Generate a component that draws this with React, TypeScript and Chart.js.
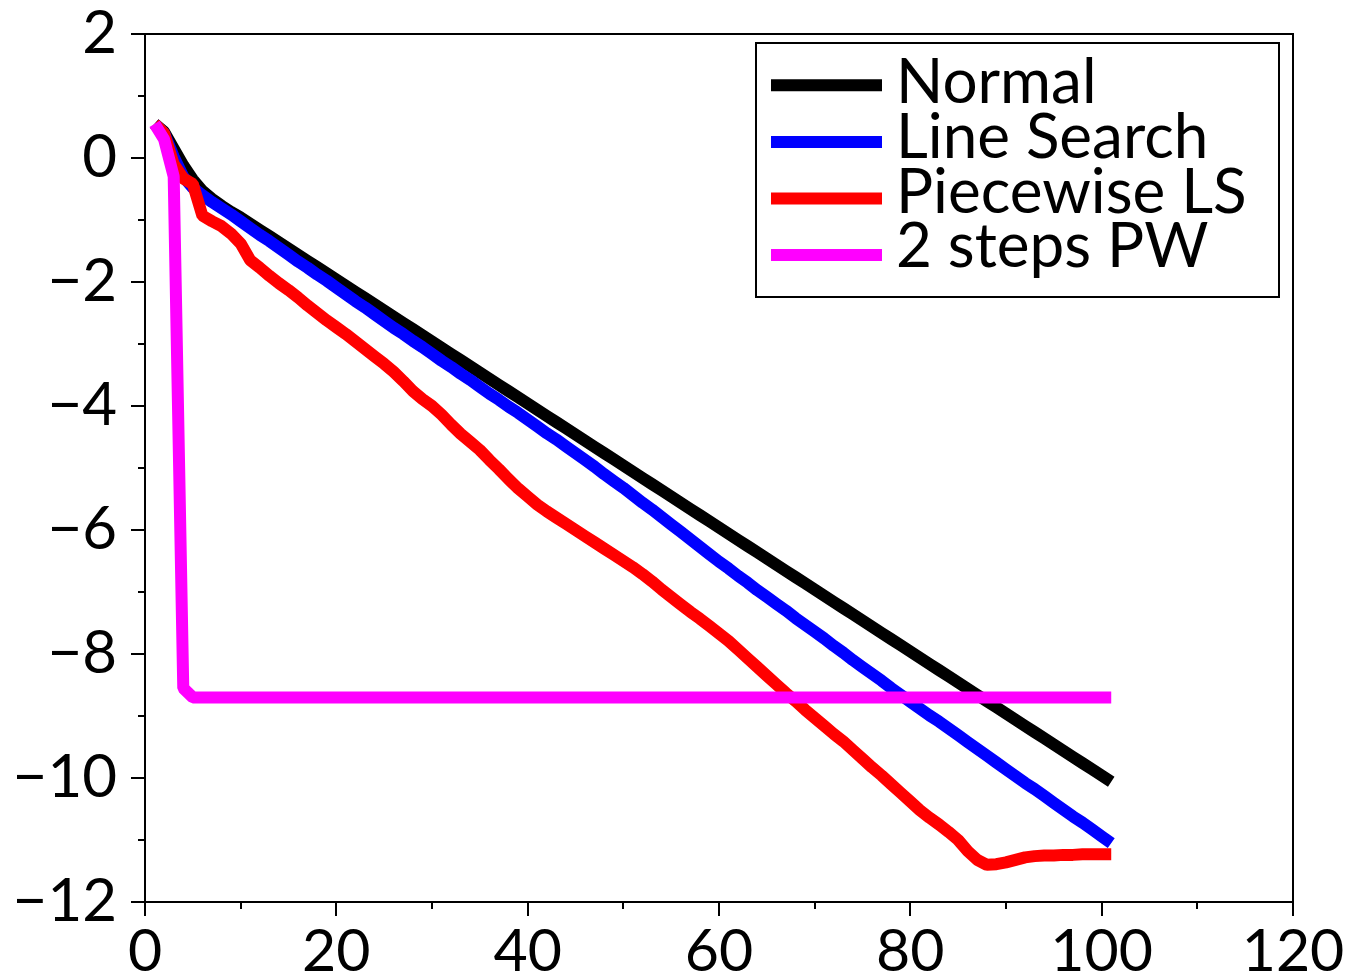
import React, { useEffect, useRef } from 'react';
import { Chart, registerables } from 'chart.js';

Chart.register(...registerables);

const FONT = 'Lato, "DejaVu Sans", sans-serif';

const iterations = [
  1, 2, 3, 4, 5, 6, 7, 8, 9, 10,
  11, 12, 13, 14, 15, 16, 17, 18, 19, 20,
  21, 22, 23, 24, 25, 26, 27, 28, 29, 30,
  31, 32, 33, 34, 35, 36, 37, 38, 39, 40,
  41, 42, 43, 44, 45, 46, 47, 48, 49, 50,
  51, 52, 53, 54, 55, 56, 57, 58, 59, 60,
  61, 62, 63, 64, 65, 66, 67, 68, 69, 70,
  71, 72, 73, 74, 75, 76, 77, 78, 79, 80,
  81, 82, 83, 84, 85, 86, 87, 88, 89, 90,
  91, 92, 93, 94, 95, 96, 97, 98, 99, 100,
  101,
];

const normalValues = [
  0.55, 0.42, 0.15, -0.12, -0.35, -0.53, -0.66, -0.77, -0.87, -0.96,
  -1.06, -1.16, -1.26, -1.36, -1.46, -1.56, -1.66, -1.76, -1.86, -1.96,
  -2.06, -2.16, -2.26, -2.36, -2.46, -2.56, -2.66, -2.76, -2.86, -2.96,
  -3.06, -3.16, -3.26, -3.36, -3.46, -3.56, -3.66, -3.76, -3.86, -3.96,
  -4.06, -4.16, -4.26, -4.36, -4.46, -4.56, -4.66, -4.76, -4.86, -4.96,
  -5.06, -5.16, -5.26, -5.36, -5.46, -5.56, -5.66, -5.76, -5.86, -5.96,
  -6.06, -6.16, -6.26, -6.36, -6.46, -6.56, -6.66, -6.76, -6.86, -6.96,
  -7.06, -7.16, -7.26, -7.36, -7.46, -7.56, -7.66, -7.76, -7.86, -7.96,
  -8.06, -8.16, -8.26, -8.36, -8.46, -8.56, -8.66, -8.76, -8.86, -8.96,
  -9.06, -9.16, -9.26, -9.36, -9.46, -9.56, -9.66, -9.76, -9.86, -9.96,
  -10.06,
];

const lineSearchValues = [
  0.55, 0.4, 0.02, -0.3, -0.48, -0.6, -0.71, -0.81, -0.91, -1.02,
  -1.13, -1.24, -1.34, -1.45, -1.56, -1.67, -1.77, -1.88, -1.98, -2.09,
  -2.2, -2.31, -2.41, -2.52, -2.63, -2.74, -2.84, -2.95, -3.05, -3.16,
  -3.27, -3.37, -3.48, -3.58, -3.69, -3.8, -3.9, -4.01, -4.11, -4.22,
  -4.33, -4.44, -4.54, -4.65, -4.76, -4.87, -4.98, -5.1, -5.21, -5.32,
  -5.44, -5.56, -5.67, -5.79, -5.91, -6.03, -6.15, -6.27, -6.39, -6.51,
  -6.62, -6.74, -6.85, -6.97, -7.08, -7.19, -7.3, -7.42, -7.53, -7.64,
  -7.75, -7.87, -7.98, -8.1, -8.21, -8.32, -8.43, -8.55, -8.66, -8.77,
  -8.88, -8.99, -9.09, -9.2, -9.31, -9.42, -9.53, -9.64, -9.75, -9.86,
  -9.97, -10.08, -10.18, -10.29, -10.4, -10.51, -10.62, -10.72, -10.83, -10.94,
  -11.05,
];

const piecewiseValues = [
  0.55, 0.4, -0.1, -0.33, -0.42, -0.93, -1.02, -1.1, -1.22, -1.38,
  -1.65, -1.77, -1.9, -2.02, -2.13, -2.25, -2.38, -2.5, -2.62, -2.73,
  -2.84, -2.96, -3.08, -3.2, -3.32, -3.45, -3.6, -3.76, -3.89, -4.0,
  -4.14, -4.3, -4.45, -4.58, -4.71, -4.87, -5.02, -5.18, -5.33, -5.46,
  -5.59, -5.7, -5.8, -5.9, -6.0, -6.1, -6.2, -6.3, -6.4, -6.5,
  -6.6, -6.71, -6.83, -6.96, -7.08, -7.2, -7.32, -7.43, -7.55, -7.67,
  -7.79, -7.93, -8.07, -8.21, -8.35, -8.49, -8.63, -8.76, -8.9, -9.03,
  -9.16, -9.29, -9.41, -9.55, -9.69, -9.83, -9.96, -10.1, -10.24, -10.38,
  -10.52, -10.64, -10.75, -10.87, -11.0, -11.18, -11.32, -11.4, -11.39, -11.36,
  -11.32, -11.28, -11.26, -11.25, -11.25, -11.24, -11.24, -11.23, -11.23, -11.23,
  -11.23,
];

const twoStepsValues = [
  0.55, 0.3, -0.3, -8.55, -8.7, -8.7, -8.7, -8.7, -8.7, -8.7,
  -8.7, -8.7, -8.7, -8.7, -8.7, -8.7, -8.7, -8.7, -8.7, -8.7,
  -8.7, -8.7, -8.7, -8.7, -8.7, -8.7, -8.7, -8.7, -8.7, -8.7,
  -8.7, -8.7, -8.7, -8.7, -8.7, -8.7, -8.7, -8.7, -8.7, -8.7,
  -8.7, -8.7, -8.7, -8.7, -8.7, -8.7, -8.7, -8.7, -8.7, -8.7,
  -8.7, -8.7, -8.7, -8.7, -8.7, -8.7, -8.7, -8.7, -8.7, -8.7,
  -8.7, -8.7, -8.7, -8.7, -8.7, -8.7, -8.7, -8.7, -8.7, -8.7,
  -8.7, -8.7, -8.7, -8.7, -8.7, -8.7, -8.7, -8.7, -8.7, -8.7,
  -8.7, -8.7, -8.7, -8.7, -8.7, -8.7, -8.7, -8.7, -8.7, -8.7,
  -8.7, -8.7, -8.7, -8.7, -8.7, -8.7, -8.7, -8.7, -8.7, -8.7,
  -8.7,
];

const seriesNames = ['Normal', 'Line Search', 'Piecewise LS', '2 steps PW'];
const seriesColors = ['#000000', '#0000ff', '#ff0000', '#ff00ff'];

const xTickLabels = [0, 20, 40, 60, 80, 100, 120];
const yTickLabels = [2, 0, -2, -4, -6, -8, -10, -12];

const fmt = (v: number) => (v < 0 ? '\u2212' + Math.abs(v) : String(v));

const frameAndTicks = {
  id: 'frameAndTicks',
  afterDraw(chart: any) {
    const { ctx, chartArea: a, scales } = chart;
    ctx.save();
    ctx.strokeStyle = '#000';
    ctx.lineWidth = 2;
    ctx.lineCap = 'butt';
    ctx.beginPath();
    ctx.moveTo(a.left - 1, a.top);
    ctx.lineTo(a.right, a.top);
    ctx.lineTo(a.right, a.bottom + 1);
    ctx.stroke();
    const xs = scales.x;
    xs.ticks.forEach((t: any) => {
      const px = Math.round(xs.getPixelForValue(t.value));
      const len = xTickLabels.includes(t.value) ? 14 : 7;
      ctx.beginPath();
      ctx.moveTo(px, a.bottom);
      ctx.lineTo(px, a.bottom + len);
      ctx.stroke();
    });
    const ys = scales.y;
    ys.ticks.forEach((t: any) => {
      const py = Math.round(ys.getPixelForValue(t.value));
      const len = yTickLabels.includes(t.value) ? 14 : 7;
      ctx.beginPath();
      ctx.moveTo(a.left, py);
      ctx.lineTo(a.left - len, py);
      ctx.stroke();
    });
    ctx.restore();
  },
};

const legendBox = {
  id: 'legendBox',
  afterDraw(chart: any) {
    const { ctx, chartArea: a } = chart;
    const right = a.right - 14;
    const top = a.top + 9;
    const left = right - 523;
    const bottom = top + 254;
    ctx.save();
    ctx.fillStyle = '#fff';
    ctx.fillRect(left, top, right - left, bottom - top);
    ctx.strokeStyle = '#000';
    ctx.lineWidth = 2;
    ctx.strokeRect(left, top, right - left, bottom - top);
    chart.data.datasets.forEach((ds: any, i: number) => {
      const cy = top + 42.3 + i * 56.6;
      ctx.strokeStyle = ds.borderColor;
      ctx.lineWidth = 12;
      ctx.lineCap = 'butt';
      ctx.beginPath();
      ctx.moveTo(left + 15, cy);
      ctx.lineTo(left + 126, cy);
      ctx.stroke();
      ctx.fillStyle = '#000';
      ctx.font = `62px ${FONT}`;
      ctx.textBaseline = 'alphabetic';
      ctx.textAlign = 'left';
      ctx.fillText(ds.label, left + 140, top + 60.3 + i * 54.7);
    });
    ctx.restore();
  },
};

export default function App() {
  const canvasRef = useRef<HTMLCanvasElement | null>(null);

  useEffect(() => {
    if (!canvasRef.current) return;
    const allValues = [normalValues, lineSearchValues, piecewiseValues, twoStepsValues];
    const datasets = allValues.map((vals, i) => ({
      label: seriesNames[i],
      data: iterations.map((x, j) => ({ x, y: vals[j] })),
      borderColor: seriesColors[i],
      backgroundColor: seriesColors[i],
      borderWidth: 12,
      borderCapStyle: 'butt' as const,
      borderJoinStyle: 'bevel' as const,
      pointRadius: 0,
      pointHoverRadius: 0,
      tension: 0,
      fill: false,
      order: 4 - i,
    }));

    const chart = new Chart(canvasRef.current, {
      type: 'line',
      data: { datasets },
      plugins: [frameAndTicks, legendBox],
      options: {
        animation: false,
        responsive: false,
        devicePixelRatio: 1,
        layout: { padding: { left: 0, right: 52, top: 34, bottom: 0 } },
        plugins: {
          legend: { display: false },
          tooltip: { enabled: false },
        },
        scales: {
          x: {
            type: 'linear',
            min: 0,
            max: 120,
            afterFit: (s: any) => {
              s.height = 69;
              s.paddingLeft = 0;
              s.paddingRight = 0;
            },
            ticks: {
              stepSize: 10,
              autoSkip: false,
              maxRotation: 0,
              padding: 1,
              color: '#000',
              font: { family: FONT, size: 59 },
              callback: (v: any) => (xTickLabels.includes(Number(v)) ? fmt(Number(v)) : ''),
            },
            grid: {
              drawOnChartArea: false,
              drawTicks: true,
              tickLength: 14,
              tickColor: 'rgba(0,0,0,0)',
            },
            border: { display: true, color: '#000', width: 2 },
          },
          y: {
            type: 'linear',
            min: -12,
            max: 2,
            afterFit: (s: any) => {
              s.width = 145;
              s.paddingTop = 0;
              s.paddingBottom = 0;
            },
            ticks: {
              stepSize: 1,
              autoSkip: false,
              padding: 14,
              color: '#000',
              font: { family: FONT, size: 60 },
              callback: (v: any) => (yTickLabels.includes(Number(v)) ? fmt(Number(v)) : ''),
            },
            grid: {
              drawOnChartArea: false,
              drawTicks: true,
              tickLength: 14,
              tickColor: 'rgba(0,0,0,0)',
            },
            border: { display: true, color: '#000', width: 2 },
          },
        },
      },
    });
    return () => chart.destroy();
  }, []);

  return (
    <div style={{ position: 'absolute', left: 0, top: 0, width: 1345, height: 971, background: '#fff' }}>
      <canvas ref={canvasRef} width={1345} height={971} style={{ display: 'block' }} />
    </div>
  );
}
